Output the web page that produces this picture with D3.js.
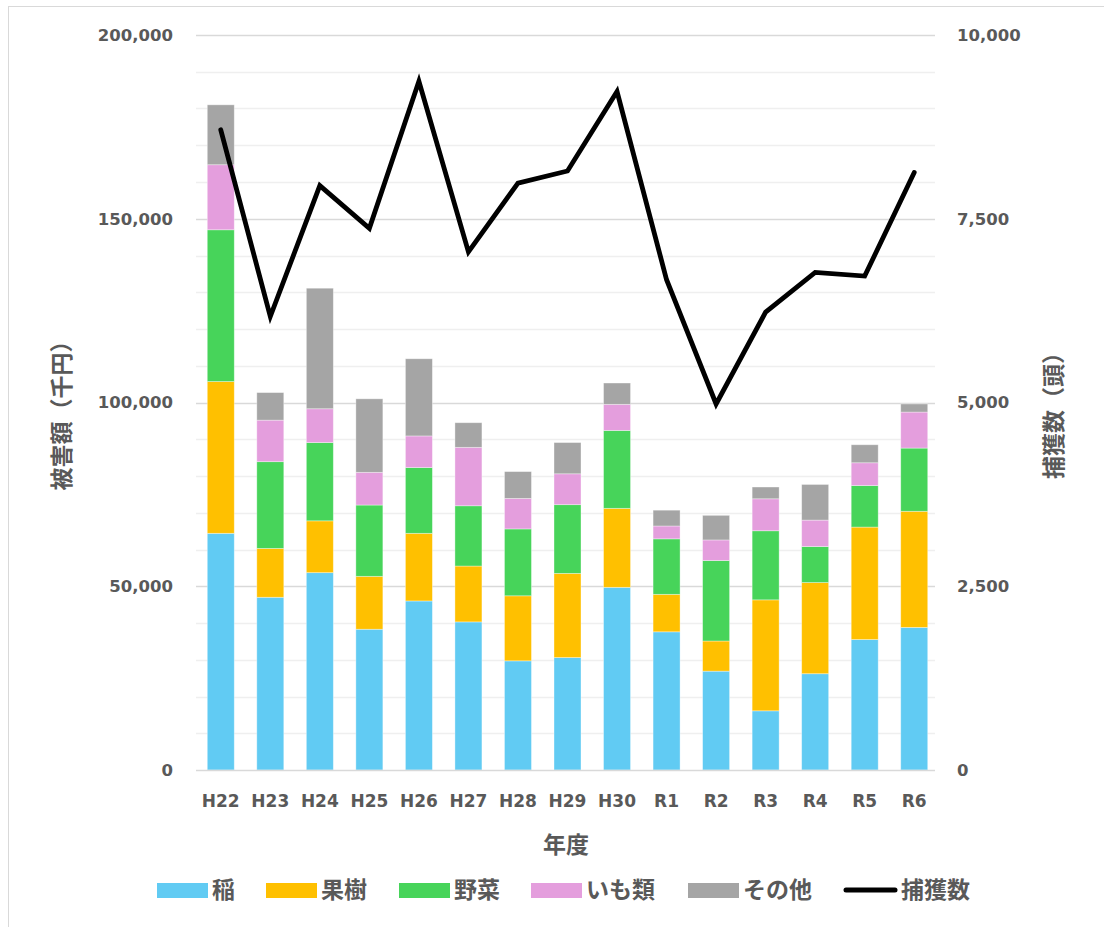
<!DOCTYPE html>
<html lang="ja">
<head>
<meta charset="UTF-8" />
<title>被害額と捕獲数</title>
<style>
  body { margin: 0; background: #fff; }
  svg { display: block; }
  .tick-label { font-family: "DejaVu Sans", sans-serif; font-weight: bold; font-size: 16.5px; fill: #595959; }
  .jp { font-family: "Noto Sans CJK JP", sans-serif; font-weight: bold; fill: #595959; }
</style>
</head>
<body>
<svg id="chart" width="1104" height="927"></svg>
<script src="https://d3js.org/d3.v7.min.js"></script>
<script>
// 年度
const years = ["H22","H23","H24","H25","H26","H27","H28","H29","H30","R1","R2","R3","R4","R5","R6"];

// 被害額（千円）
const ine    = [64400, 47000, 53700, 38300, 46000, 40300, 29700, 30600, 49700, 37600, 26900, 16100, 26200, 35500, 38800];
const kaju   = [41300, 13300, 14100, 14400, 18400, 15200, 17700, 22900, 21500, 10200,  8200, 30200, 24800, 30600, 31600];
const yasai  = [41300, 23600, 21300, 19400, 17900, 16400, 18200, 18700, 21200, 15100, 21900, 18800,  9800, 11300, 17200];
const imo    = [17700, 11300,  9200,  8900,  8600, 15900,  8300,  8400,  7100,  3500,  5600,  8700,  7200,  6200,  9800];
const sonota = [16300,  7500, 32800, 20000, 21000,  6700,  7300,  8500,  5800,  4300,  6700,  3200,  9700,  4900,  2200];

// 捕獲数（頭）
const hokaku = [8710, 6170, 7950, 7370, 9370, 7050, 7985, 8150, 9230, 6670, 4980, 6230, 6770, 6720, 8130];

const leftTicks = [0, 50000, 100000, 150000, 200000];
const rightTicks = [0, 2500, 5000, 7500, 10000];

const seriesNames = ["稲", "果樹", "野菜", "いも類", "その他"];
const seriesColors = ["#61cbf3", "#ffc000", "#47d45a", "#e49edd", "#a5a5a5"];
const seriesValues = [ine, kaju, yasai, imo, sonota];

const plot = {left: 196, right: 939, top: 35, bottom: 770};

const svg = d3.select("#chart");

// outer frame
svg.append("rect")
  .attr("x", 8.5).attr("y", 6.5)
  .attr("width", 1200).attr("height", 1000)
  .attr("fill", "none").attr("stroke", "#d9d9d9");

const x = d3.scaleBand().domain(years)
  .range([plot.left, plot.right])
  .paddingInner(0.455).paddingOuter(0.2275);
const y = d3.scaleLinear().domain([0, 200000]).range([plot.bottom, plot.top]);
const y2 = d3.scaleLinear().domain([0, 10000]).range([plot.bottom, plot.top]);

// gridlines
const grid = d3.range(10000, 200001, 10000);
svg.append("g").selectAll("line")
  .data(grid)
  .join("line")
  .attr("x1", plot.left).attr("x2", plot.right - 4)
  .attr("y1", d => Math.round(y(d)) + 0.5)
  .attr("y2", d => Math.round(y(d)) + 0.5)
  .attr("stroke", d => d % 50000 === 0 ? "#d9d9d9" : "#efefef")
  .attr("stroke-width", 1.3);

// stacked bars
const table = years.map((yr, i) => {
  const row = {year: yr};
  seriesNames.forEach((s, j) => row[s] = seriesValues[j][i]);
  return row;
});
const stacked = d3.stack().keys(seriesNames)(table);

svg.append("g").selectAll("g")
  .data(stacked)
  .join("g")
  .attr("fill", (d, i) => seriesColors[i])
  .selectAll("rect")
  .data(d => d)
  .join("rect")
  .attr("x", d => x(d.data.year))
  .attr("width", x.bandwidth())
  .attr("y", d => y(d[1]))
  .attr("height", d => y(d[0]) - y(d[1]))
  .attr("stroke", "#ffffff")
  .attr("stroke-opacity", 0.45)
  .attr("stroke-width", 0.8);

// baseline
svg.append("line")
  .attr("x1", plot.left).attr("x2", plot.right - 4)
  .attr("y1", plot.bottom + 0.5).attr("y2", plot.bottom + 0.5)
  .attr("stroke", "#d9d9d9").attr("stroke-width", 1.5);

// line series
svg.append("path")
  .datum(hokaku)
  .attr("fill", "none")
  .attr("stroke", "#000")
  .attr("stroke-width", 4.8)
  .attr("stroke-linejoin", "miter")
  .attr("stroke-linecap", "round")
  .attr("d", d3.line()
    .x((d, i) => x(years[i]) + x.bandwidth() / 2)
    .y(d => y2(d)));

// left axis labels
svg.append("g").selectAll("text")
  .data(leftTicks)
  .join("text")
  .attr("class", "tick-label")
  .attr("x", 173)
  .attr("y", d => y(d))
  .attr("dy", "0.36em")
  .attr("text-anchor", "end")
  .text(d => d3.format(",")(d));

// right axis labels
svg.append("g").selectAll("text")
  .data(rightTicks)
  .join("text")
  .attr("class", "tick-label")
  .attr("x", 957)
  .attr("y", d => y2(d))
  .attr("dy", "0.36em")
  .attr("text-anchor", "start")
  .text(d => d3.format(",")(d));

// x labels
svg.append("g").selectAll("text")
  .data(years)
  .join("text")
  .attr("class", "tick-label")
  .attr("x", d => x(d) + x.bandwidth() / 2)
  .attr("y", 801)
  .attr("dy", "0.36em")
  .attr("text-anchor", "middle")
  .style("font-size", "17px")
  .text(d => d);

// axis titles
svg.append("text")
  .attr("class", "jp")
  .attr("x", 566).attr("y", 845)
  .attr("dy", "0.36em")
  .attr("text-anchor", "middle")
  .style("font-size", "23px")
  .text("年度");

svg.append("text")
  .attr("class", "jp")
  .attr("transform", "translate(62,410) rotate(-90)")
  .attr("dy", "0.36em")
  .attr("text-anchor", "middle")
  .style("font-size", "23px")
  .text("被害額（千円）");

svg.append("text")
  .attr("class", "jp")
  .attr("transform", "translate(1054,410) rotate(-90)")
  .attr("dy", "0.36em")
  .attr("text-anchor", "middle")
  .style("font-size", "23px")
  .text("捕獲数（頭）");

// legend
const legendX = [157, 266, 399, 531, 688];
const legend = svg.append("g");
seriesNames.forEach((s, i) => {
  legend.append("rect")
    .attr("x", legendX[i]).attr("y", 883)
    .attr("width", 51).attr("height", 15)
    .attr("fill", seriesColors[i]);
  legend.append("text")
    .attr("class", "jp")
    .attr("x", legendX[i] + 55).attr("y", 890)
    .attr("dy", "0.36em")
    .style("font-size", "23px")
    .text(s);
});
legend.append("line")
  .attr("x1", 846).attr("x2", 895)
  .attr("y1", 890).attr("y2", 890)
  .attr("stroke", "#000").attr("stroke-width", 5)
  .attr("stroke-linecap", "round");
legend.append("text")
  .attr("class", "jp")
  .attr("x", 901).attr("y", 890)
  .attr("dy", "0.36em")
  .style("font-size", "23px")
  .text("捕獲数");
</script>
</body>
</html>
